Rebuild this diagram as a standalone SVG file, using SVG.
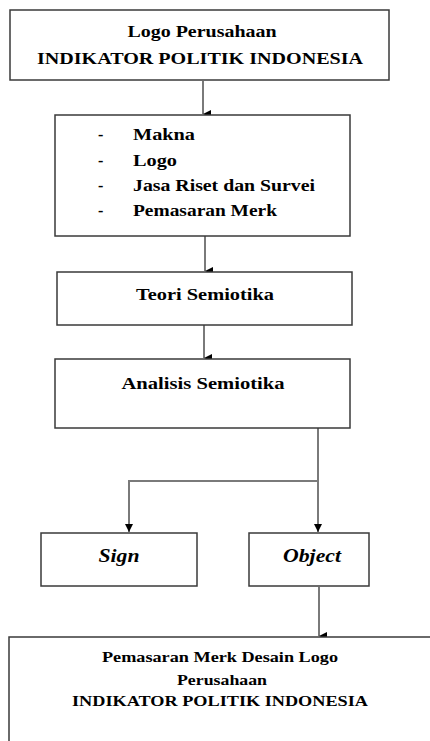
<svg xmlns="http://www.w3.org/2000/svg" width="430" height="741" viewBox="0 0 430 741">
<style>
.box{fill:#fff;stroke:#3a3a3a;stroke-width:1.5}
.t{font-weight:bold;font-size:16px;fill:#000}
.s{font-size:14px}
.c{text-anchor:middle}
.i{font-style:italic;font-size:19px}
.ln{fill:none;stroke:#7a7a7a;stroke-width:2}
</style>
<defs>
<marker id="ah" markerWidth="8" markerHeight="8" refX="4" refY="8" orient="auto-start-reverse" markerUnits="userSpaceOnUse" viewBox="0 0 8 8">
<path d="M0,0 L8,0 L4,8 Z" fill="#000"/>
</marker>
</defs>
<rect width="430" height="741" fill="#fff"/>
<g id="connectors">
<path class="ln" d="M203,81 V114" marker-end="url(#ah)"/>
<path class="ln" d="M205,236 V271" marker-end="url(#ah)"/>
<path class="ln" d="M204,325 V358" marker-end="url(#ah)"/>
<path class="ln" d="M318,428 V532"/>
<path d="M314,524 L322,524 L318,532 Z" fill="#000"/>
<path class="ln" d="M318,481 H129 V532"/>
<path d="M125,524 L133,524 L129,532 Z" fill="#000"/>
<path class="ln" d="M319,587 V636" marker-end="url(#ah)"/>
</g>
<g font-family="Liberation Serif, Times New Roman, serif">
<g id="node-logo">
<rect class="box" x="10" y="10" width="379" height="70"/>
<text class="t c" x="202" y="37" textLength="149" lengthAdjust="spacingAndGlyphs">Logo Perusahaan</text>
<text class="t c" x="200" y="64" textLength="326" lengthAdjust="spacingAndGlyphs">INDIKATOR POLITIK INDONESIA</text>
</g>
<g id="node-list">
<rect class="box" x="55" y="115" width="295" height="121"/>
<text class="t" x="98" y="140">-</text>
<text class="t" x="133" y="140" textLength="62" lengthAdjust="spacingAndGlyphs">Makna</text>
<text class="t" x="98" y="166">-</text>
<text class="t" x="133" y="166" textLength="44" lengthAdjust="spacingAndGlyphs">Logo</text>
<text class="t" x="98" y="191">-</text>
<text class="t" x="133" y="191" textLength="182" lengthAdjust="spacingAndGlyphs">Jasa Riset dan Survei</text>
<text class="t" x="98" y="216">-</text>
<text class="t" x="133" y="216" textLength="144" lengthAdjust="spacingAndGlyphs">Pemasaran Merk</text>
</g>
<g id="node-teori">
<rect class="box" x="57" y="272" width="295" height="53"/>
<text class="t c" x="205" y="300" textLength="138" lengthAdjust="spacingAndGlyphs">Teori Semiotika</text>
</g>
<g id="node-analisis">
<rect class="box" x="55" y="359" width="295" height="69"/>
<text class="t c" x="203" y="389" textLength="163" lengthAdjust="spacingAndGlyphs">Analisis Semiotika</text>
</g>
<g id="node-sign">
<rect class="box" x="41" y="533" width="156" height="53"/>
<text class="t c i" x="119" y="562" textLength="41" lengthAdjust="spacingAndGlyphs">Sign</text>
</g>
<g id="node-object">
<rect class="box" x="249" y="533" width="120" height="53"/>
<text class="t c i" x="312" y="562" textLength="58" lengthAdjust="spacingAndGlyphs">Object</text>
</g>
<g id="node-pemasaran">
<rect class="box" x="9" y="637" width="440" height="120"/>
<text class="t s c" x="220" y="662" textLength="236" lengthAdjust="spacingAndGlyphs">Pemasaran Merk Desain Logo</text>
<text class="t s c" x="222" y="685" textLength="90" lengthAdjust="spacingAndGlyphs">Perusahaan</text>
<text class="t s c" x="220" y="706" textLength="296" lengthAdjust="spacingAndGlyphs">INDIKATOR POLITIK INDONESIA</text>
</g>
</g>
</svg>
